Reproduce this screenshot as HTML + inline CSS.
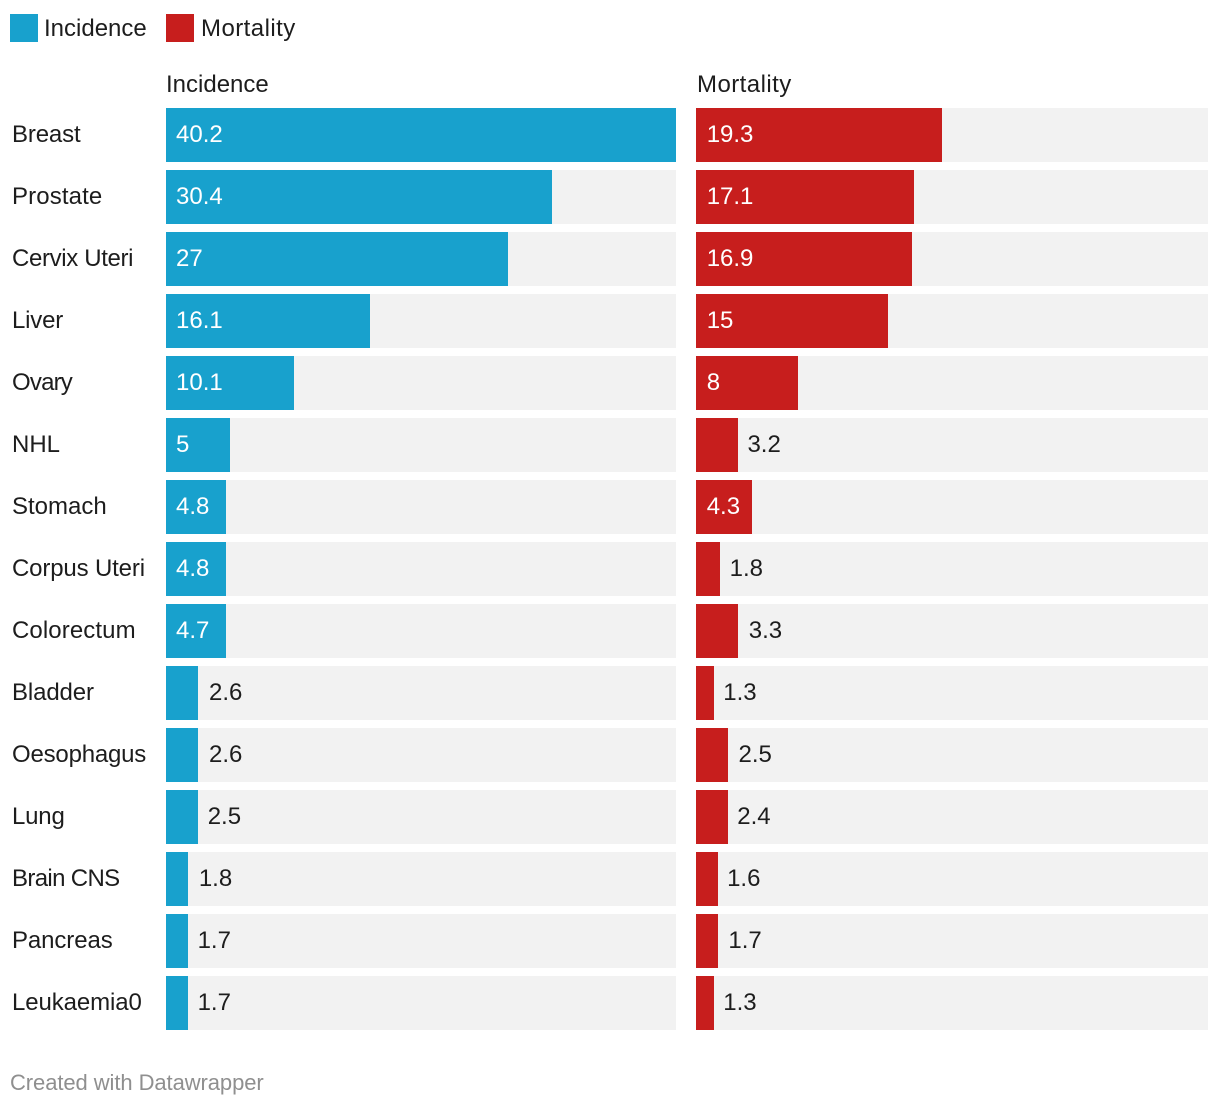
<!DOCTYPE html>
<html lang="en">
<head>
<meta charset="utf-8">
<title>Incidence and Mortality</title>
<style>
html,body{margin:0;padding:0;background:#fff;width:1220px;height:1106px;overflow:hidden}
svg{display:block}
text{font-family:"Liberation Sans",Arial,sans-serif;font-size:24px;fill:#1d1d1d}
</style>
</head>
<body>
<svg id="chart" width="1220" height="1106" viewBox="0 0 1220 1106" xmlns="http://www.w3.org/2000/svg">
  <g>
    <rect x="10" y="14" width="28" height="28" fill="#18a1cd"/>
    <text x="44" y="36">Incidence</text>
    <rect x="166" y="14" width="28" height="28" fill="#c71e1d"/>
    <text x="201" y="36" style="letter-spacing:0.45px">Mortality</text>
  </g>
  <text x="166" y="92">Incidence</text>
  <text x="697" y="92" style="letter-spacing:0.45px">Mortality</text>
  <g id="rows"></g>
  <text x="10" y="1090" style="font-size:22px;fill:#8f8f8f;letter-spacing:-0.08px">Created with Datawrapper</text>
</svg>
<script>
var categories = ["Breast","Prostate","Cervix Uteri","Liver","Ovary","NHL","Stomach","Corpus Uteri","Colorectum","Bladder","Oesophagus","Lung","Brain CNS","Pancreas","Leukaemia0"];
var incidence = [40.2,30.4,27,16.1,10.1,5,4.8,4.8,4.7,2.6,2.6,2.5,1.8,1.7,1.7];
var mortality = [19.3,17.1,16.9,15,8,3.2,4.3,1.8,3.3,1.3,2.5,2.4,1.6,1.7,1.3];
var domainMax = 40.2;

var NS = 'http://www.w3.org/2000/svg';
var rowsGroup = document.getElementById('rows');
var labelTracking = {"Cervix Uteri":-0.35,"Ovary":-0.8,"Brain CNS":-0.65,"Corpus Uteri":-0.15,"Oesophagus":-0.2,"Breast":-0.15,"Prostate":0.12,"Liver":-0.2,"Lung":-0.2,"Bladder":-0.12,"Colorectum":0.1,"Pancreas":-0.1,"Leukaemia0":-0.1};

function yScale(i) { return 108 + i * 62; }
function widthScale(value, panelWidth) {
  return value / domainMax * panelWidth;
}
function snap(v) {
  return Math.round(v / 2) * 2;
}
function addRect(parent, x, y, w, h, fill) {
  var r = document.createElementNS(NS, 'rect');
  r.setAttribute('x', x);
  r.setAttribute('y', y);
  r.setAttribute('width', w);
  r.setAttribute('height', h);
  r.setAttribute('fill', fill);
  parent.appendChild(r);
  return r;
}
function addText(parent, x, y, str, color) {
  var t = document.createElementNS(NS, 'text');
  t.setAttribute('x', x);
  t.setAttribute('y', y);
  if (color) t.style.fill = color;
  t.textContent = str;
  parent.appendChild(t);
  return t;
}
function drawCell(g, panelX, trueX, panelWidth, i, value, color, seriesName) {
  var y = yScale(i);
  var track = addRect(g, panelX, y, panelWidth, 54, '#f2f2f2');
  
  
  var w = widthScale(value, panelWidth);
  var barEnd = trueX + w;
  var bar = addRect(g, panelX, y, snap(barEnd) - panelX, 54, color);
  
  
  var inside = w >= 50;
  var label = addText(g, inside ? trueX + 10 : barEnd + 10, y + 34, String(value), inside ? '#ffffff' : '#1d1d1d');
  
  
}
categories.forEach(function (name, i) {
  var g = document.createElementNS(NS, 'g');
  
  
  rowsGroup.appendChild(g);
  var label = addText(g, 12, yScale(i) + 34, name);
  
  
  if (labelTracking[name]) label.style.letterSpacing = labelTracking[name] + 'px';
  drawCell(g, 166, 166, 510, i, incidence[i], '#18a1cd', 'incidence');
  drawCell(g, 696, 696.7, 512, i, mortality[i], '#c71e1d', 'mortality');
});
</script>
</body>
</html>
